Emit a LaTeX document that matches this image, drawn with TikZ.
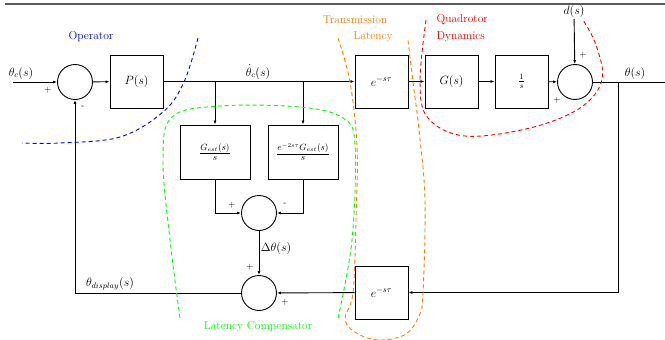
\documentclass[tikz,border=0pt]{standalone}
\usetikzlibrary{arrows.meta}
\begin{document}
\begin{tikzpicture}[x=1pt,y=-1pt,
  every node/.style={font=\fontsize{11.5}{13.5}\selectfont},
  blk/.style={draw,line width=0.9pt,minimum width=53pt,minimum height=53pt,inner sep=0pt},
  wblk/.style={draw,line width=0.9pt,minimum width=70pt,minimum height=54pt,inner sep=0pt,font=\fontsize{12.5}{14}\selectfont},
  sumc/.style={draw,circle,line width=0.9pt,minimum size=35pt,inner sep=0pt},
  arr/.style={line width=0.9pt,-{Latex[length=4pt,width=3pt]}},
  ln/.style={line width=0.9pt},
  sgn/.style={font=\small,inner sep=0pt},
  dsh/.style={line width=0.9pt,dash pattern=on 4pt off 3pt}
]
\useasboundingbox (0,0) rectangle (665,340);
\draw[line width=1.3pt,gray!70!black] (5,4) -- (665,4);

% blocks
\node[sumc] (s1) at (75,82) {};
\node[blk] (P) at (136.5,81.5) {$P(s)$};
\node[blk] (D1) at (381.5,81.5) {$e^{-s\tau}$};
\node[blk] (G) at (451.5,81.5) {$G(s)$};
\node[blk] (I) at (521.5,81.5) {$\frac{1}{s}$};
\node[sumc] (s4) at (575,82) {};
\node[wblk] (E1) at (215,152) {$\frac{G_{est}(s)}{s}$};
\node[wblk] (E2) at (303,152) {$\frac{e^{-2s\tau}G_{est}(s)}{s}$};
\node[sumc] (s2) at (259,213) {};
\node[sumc] (s3) at (259,293) {};
\node[blk] (D2) at (381.5,292.5) {$e^{-s\tau}$};

\coordinate (in) at (13,82);
\coordinate (out) at (665,82);
\coordinate (b1) at (215,82);
\coordinate (b2) at (303,82);
\coordinate (b3) at (618,82);
\node[inner sep=1pt] (d) at (574,12) {$d(s)$};

% connectors
\draw[arr] (in) -- (s1);
\draw[arr] (s1) -- (P);
\draw[arr] (P) -- (D1);
\draw[arr] (b1) -- (E1);
\draw[arr] (b2) -- (E2);
\draw[arr] (E1.south) |- (s2.west);
\draw[arr] (E2.south) |- (s2.east);
\draw[arr] (s2) -- (s3);
\draw[arr] (D1) -- (G);
\draw[arr] (G) -- (I);
\draw[arr] (I) -- (s4);
\draw[arr] (d) -- (s4);
\draw[ln] (s4) -- (out);
\draw[arr] (b3) |- (D2.east);
\draw[arr] (D2) -- (s3);
\draw[arr] (s3.west) -| (s1.south);

% signal labels
\node[inner sep=1pt] (l1) at (21,73) {$\theta_c(s)$};
\node[inner sep=1pt] (l2) at (258,72) {$\dot{\theta}_c(s)$};
\node[inner sep=1pt] (l3) at (635,73) {$\theta(s)$};
\node[inner sep=1pt] (l4) at (276,248) {$\Delta\theta(s)$};
\node[inner sep=1pt] (l5) at (110,284) {$\theta_{display}(s)$};

% signs
\node[sgn] at (48,90) {+};
\node[sgn] at (83,107) {-};
\node[sgn] at (232,205) {+};
\node[sgn] at (285,204) {-};
\node[sgn] at (250,267) {+};
\node[sgn] at (285,302) {+};
\node[sgn] at (583,55) {+};
\node[sgn] at (557,100) {+};

% region outlines
\draw[dsh,blue] plot[smooth,tension=0.6] coordinates {(198,38) (184,82) (163,112) (120,137) (60,143) (22,143)};
\draw[dsh,green] plot[smooth,tension=0.6] coordinates {(180,318) (170,240) (163,160) (172,117) (220,106) (300,107) (343,118) (355,145) (352,240) (338,318)};
\draw[dsh,orange] plot[smooth,tension=0.6] coordinates {(338,38) (350,82) (357,147) (356,220) (353,293) (345,320) (360,335) (382,340) (406,334) (419,316) (423,293) (425,200) (419,130) (413,82) (408,40)};
\draw[dsh,red] plot[smooth,tension=0.6] coordinates {(426,20) (420,82) (428,118) (465,136) (530,128) (580,108) (602,80) (596,45) (583,20)};

% region labels
\node[blue] at (91,37) {Operator};
\node[orange] at (355,20) {Transmission};
\node[orange] at (373,37) {Latency};
\node[red,anchor=west] at (433,20) {Quadrotor};
\node[red,anchor=west] at (433,37) {Dynamics};
\node[green] at (258,327) {Latency Compensator};
\end{tikzpicture}
\end{document}
